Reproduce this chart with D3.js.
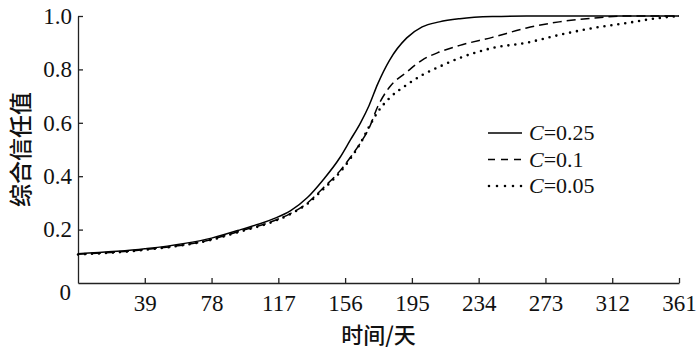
<!DOCTYPE html>
<html>
<head>
<meta charset="utf-8">
<script src="https://cdn.jsdelivr.net/npm/d3@7"></script>
<style>
  html, body { margin: 0; padding: 0; background: #fff; }
  svg { display: block; }
  .serif { font-family: "Liberation Serif", "Times New Roman", Times, serif; }
  .cjk { font-family: "Noto Sans CJK SC", "Noto Sans", sans-serif; font-weight: 500; }
</style>
</head>
<body>
<div id="chart"></div>
<script>
const days = [0, 39, 78, 95, 114, 124, 134, 143, 153, 159, 165, 170, 175, 182, 192, 201, 211, 223, 242, 262, 281, 301, 323, 347, 361];

// Trust value for each decay factor C
const trustC025 = [0.11, 0.128, 0.168, 0.2, 0.24, 0.27, 0.32, 0.385, 0.47, 0.535, 0.6, 0.665, 0.745, 0.835, 0.918, 0.959, 0.978, 0.99, 0.998, 1.0, 1.0, 1.0, 1.0, 1.0, 1.0];
const trustC010 = [0.108, 0.125, 0.163, 0.195, 0.232, 0.26, 0.3, 0.355, 0.42, 0.47, 0.525, 0.58, 0.66, 0.734, 0.79, 0.835, 0.865, 0.89, 0.92, 0.955, 0.978, 0.992, 1.0, 1.0, 1.0];
const trustC005 = [0.107, 0.124, 0.162, 0.193, 0.23, 0.258, 0.297, 0.35, 0.415, 0.465, 0.524, 0.585, 0.64, 0.693, 0.742, 0.779, 0.81, 0.843, 0.88, 0.9, 0.929, 0.955, 0.974, 0.993, 1.0];

const seriesNames = ['0.25', '0.1', '0.05'];
const xTicks = [39, 78, 117, 156, 195, 234, 273, 312, 361];
const yTicks = [0.2, 0.4, 0.6, 0.8, 1.0];

const width = 700, height = 350;
const margin = { top: 16, right: 21, bottom: 67, left: 78 };
const innerW = width - margin.left - margin.right;
const innerH = height - margin.top - margin.bottom;

const svg = d3.select('#chart').append('svg')
  .attr('width', width).attr('height', height);

const g = svg.append('g').attr('transform', `translate(${margin.left},${margin.top})`);

// the last tick (361) sits one equal step after 312, so the scale is piecewise
const step = innerW / 9;
const x = d3.scaleLinear().domain([0, 312, 361]).range([0, step * 8, innerW]);
const y = d3.scaleLinear().domain([0, 1]).range([innerH, 0]);

// styles per series
const styles = [
  { data: trustC025, dash: null, legendDash: null, width: 1.5, cap: 'butt' },
  { data: trustC010, dash: '9,5', legendDash: '7,6', width: 1.5, cap: 'butt' },
  { data: trustC005, dash: '0,7', legendDash: '0,8', width: 2.6, cap: 'round' },
];

const line = d3.line()
  .x((d) => x(d[0]))
  .y((d) => y(d[1]))
  .curve(d3.curveMonotoneX);

// Axes
const xAxis = g.append('g').attr('transform', `translate(0,${innerH})`)
  .call(d3.axisBottom(x).tickValues(xTicks).tickSizeInner(-5).tickSizeOuter(0).tickPadding(14));
const yAxis = g.append('g')
  .call(d3.axisLeft(y).tickValues(yTicks).tickFormat(d3.format('.1f')).tickSizeInner(-5).tickSizeOuter(0).tickPadding(6));

[xAxis, yAxis].forEach((ax) => {
  ax.attr('font-family', null).attr('font-size', null);
  ax.select('.domain').attr('stroke', '#222').attr('stroke-width', 1.3);
  ax.selectAll('.tick line').attr('stroke', '#222').attr('stroke-width', 1.3);
  ax.selectAll('.tick text')
    .attr('class', 'serif')
    .attr('fill', '#111')
    .style('font-size', '23px');
});
xAxis.selectAll('.tick text').attr('dy', '0.71em').attr('y', 12);

// shared origin label
g.append('text')
  .attr('class', 'serif')
  .attr('x', -7).attr('y', innerH + 17)
  .attr('text-anchor', 'end')
  .style('font-size', '23px')
  .attr('fill', '#111')
  .text('0');

// Curves
styles.slice().reverse().forEach((s) => {
  g.append('path')
    .datum(days.map((dd, i) => [dd, s.data[i]]))
    .attr('d', line)
    .attr('fill', 'none')
    .attr('stroke', '#000')
    .attr('stroke-width', s.width)
    .attr('stroke-linecap', s.cap)
    .attr('stroke-dasharray', s.dash);
});

// Legend
const legend = g.append('g').attr('transform', `translate(${488 - margin.left},${140 - margin.top})`);
styles.forEach((s, i) => {
  const row = legend.append('g').attr('transform', `translate(0,${i * 26.5})`);
  row.append('line')
    .attr('x1', s.cap === 'round' ? 1 : 0).attr('x2', 34)
    .attr('y1', -7).attr('y2', -7)
    .attr('stroke', '#000')
    .attr('stroke-width', s.width)
    .attr('stroke-linecap', s.cap)
    .attr('stroke-dasharray', s.legendDash);
  const t = row.append('text')
    .attr('class', 'serif')
    .attr('x', 41).attr('y', 0)
    .style('font-size', '22px')
    .attr('fill', '#111');
  t.append('tspan').style('font-style', 'italic').text('C');
  t.append('tspan').text('=' + seriesNames[i]);
});

// Axis titles
svg.append('text')
  .attr('class', 'cjk')
  .attr('x', margin.left + innerW / 2).attr('y', 343)
  .attr('text-anchor', 'middle')
  .style('font-size', '22px')
  .attr('fill', '#111')
  .text('时间/天');

svg.append('text')
  .attr('class', 'cjk')
  .attr('transform', `translate(29,${margin.top + innerH / 2}) rotate(-90)`)
  .attr('text-anchor', 'middle')
  .style('font-size', '23px')
  .attr('fill', '#111')
  .text('综合信任值');
</script>
</body>
</html>
